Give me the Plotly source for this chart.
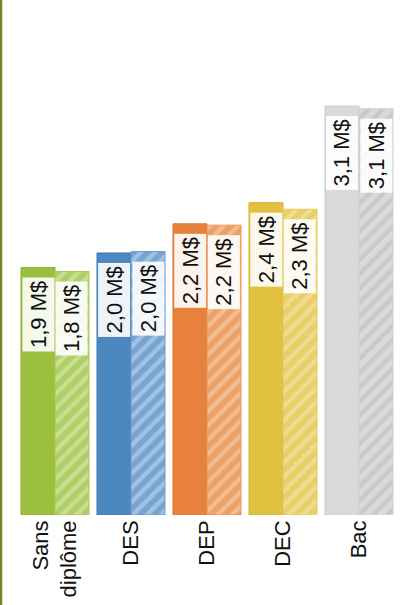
import plotly.graph_objects as go

categories = ["Sans<br>diplôme", "DES", "DEP", "DEC", "Bac"]
values_a = [1.87, 1.98, 2.20, 2.36, 3.09]
values_b = [1.84, 1.99, 2.19, 2.31, 3.07]
base_colors = ["#9cc03e", "#4c87c0", "#e8813b", "#e2c040", "#d9d9d9"]
border_colors = ["#8db336", "#4579b0", "#d97430", "#d4b236", "#cccccc"]
hatch_bg = ["#b0cf66", "#77a4d3", "#eda068", "#e8cf68", "#dadada"]
hatch_fg = ["#c8df93", "#a3c1e3", "#f3bb93", "#efdc93", "#c9c9c9"]
hatch_border = ["#a8c95a", "#6b9acb", "#ea9558", "#e5ca5a", "#d0d0d0"]

def fmt(v):
    return f"{v:.1f}".replace(".", ",") + " M$"

bargap = 0.105
bar_w = (1 - bargap) / 2

fig = go.Figure()
fig.add_trace(go.Bar(
    x=categories, y=values_a, width=bar_w, offset=-bar_w,
    marker=dict(color=base_colors, line=dict(color=border_colors, width=1)),
    hoverinfo="skip", showlegend=False,
))
for cat, vb, bg, fg, bc in zip(categories, values_b, hatch_bg, hatch_fg, hatch_border):
    fig.add_trace(go.Bar(
        x=[cat], y=[vb], width=bar_w, offset=0,
        marker=dict(color=bg, line=dict(color=bc, width=1),
                    pattern=dict(shape="/", fgcolor=fg, bgcolor=bg, size=10,
                                 solidity=0.45, fillmode="replace")),
        hoverinfo="skip", showlegend=False,
    ))

annotations = []
for i, (va, vb) in enumerate(zip(values_a, values_b)):
    for off, v in ((-bar_w / 2, va), (bar_w / 2, vb)):
        annotations.append(dict(
            x=i + off, y=v, xref="x", yref="y",
            text=fmt(v), textangle=-90, showarrow=False,
            yanchor="top", xanchor="center", yshift=-10,
            font=dict(family="Liberation Sans, Arial, sans-serif", size=22, color="#111111"),
            bgcolor="rgba(255,255,255,0.9)", borderpad=3,
        ))

fig.update_layout(
    width=402, height=605,
    margin=dict(l=17, r=5, t=65, b=90),
    barmode="overlay",
    plot_bgcolor="white", paper_bgcolor="white",
    annotations=annotations,
    xaxis=dict(tickangle=-90, showgrid=False, zeroline=False, showline=False, ticks="",
               tickfont=dict(family="Liberation Sans, Arial, sans-serif", size=22, color="#111111"),
               fixedrange=True),
    yaxis=dict(range=[0, 3.4], visible=False, showgrid=False, fixedrange=True),
    shapes=[dict(type="line", xref="paper", yref="paper",
                 x0=-16 / 380, x1=-16 / 380, y0=-90 / 450, y1=1 + 65 / 450,
                 line=dict(color="#6e8c1c", width=2.5))],
)

fig.write_html("out.html", config={"displayModeBar": False})
